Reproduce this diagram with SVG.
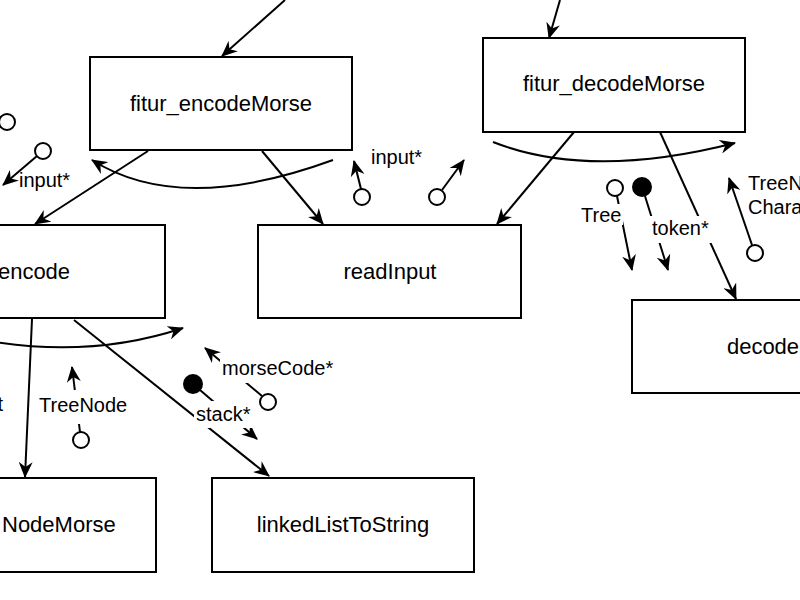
<svg xmlns="http://www.w3.org/2000/svg" width="800" height="600" viewBox="0 0 800 600">
<defs>
<style>
.box{fill:#fff;stroke:#000;stroke-width:2}
.t{font-family:"Liberation Sans",Arial,sans-serif;font-size:22px;fill:#000}
.l{font-family:"Liberation Sans",Arial,sans-serif;font-size:20px;fill:#000}
.c{fill:none;stroke:#000;stroke-width:2}
.o{fill:#fff;stroke:#000;stroke-width:2}
.f{fill:#000;stroke:#000;stroke-width:2}
.bg{fill:#fff;stroke:none}
</style>
<marker id="arr" viewBox="0 0 16 14" refX="15" refY="7" markerWidth="16" markerHeight="14" markerUnits="userSpaceOnUse" orient="auto">
<path d="M0,0 L16,7 L0,14 L5,7 Z" fill="#000"/>
</marker>
</defs>
<rect width="800" height="600" fill="#fff"/>
<g id="connectors">
<path class="c" marker-end="url(#arr)" d="M285,0 L222,56"/>
<path class="c" marker-end="url(#arr)" d="M560,0 L549,38"/>
<path class="c" marker-end="url(#arr)" d="M148,151 L35,224"/>
<path class="c" marker-end="url(#arr)" d="M262,151 L323,224"/>
<path class="c" marker-end="url(#arr)" d="M574,132 L497,224"/>
<path class="c" marker-end="url(#arr)" d="M660,132 L736,299"/>
<path class="c" marker-end="url(#arr)" d="M32,319 L25,477"/>
<path class="c" marker-end="url(#arr)" d="M74,320 L269,476"/>
<path class="c" marker-end="url(#arr)" d="M333,160 Q180,216 92,160"/>
<path class="c" marker-end="url(#arr)" d="M493,142 Q590,180 735,143"/>
<path class="c" marker-end="url(#arr)" d="M-50,333 Q75,364 183,328"/>
<path class="c" marker-end="url(#arr)" d="M37,156 L3,185"/>
<path class="c" marker-end="url(#arr)" d="M361,189 L354,161"/>
<path class="c" marker-end="url(#arr)" d="M442,190 L464,160"/>
<path class="c" marker-end="url(#arr)" d="M617,196 L632,270"/>
<path class="c" marker-end="url(#arr)" d="M645,196 L668,270"/>
<path class="c" marker-end="url(#arr)" d="M752,245 L729,178"/>
<path class="c" marker-end="url(#arr)" d="M80,432 L72,367"/>
<path class="c" marker-end="url(#arr)" d="M200,390 L257,439"/>
<path class="c" marker-end="url(#arr)" d="M262,396 L205,348"/>
<circle class="o" cx="7" cy="122" r="8"/>
<circle class="o" cx="43" cy="151" r="8"/>
<circle class="o" cx="362" cy="197" r="8"/>
<circle class="o" cx="437" cy="197" r="8"/>
<circle class="o" cx="615" cy="188" r="8"/>
<circle class="f" cx="642" cy="187" r="9"/>
<circle class="o" cx="755" cy="253" r="8"/>
<circle class="o" cx="81" cy="440" r="8"/>
<circle class="f" cx="193" cy="384" r="9"/>
<circle class="o" cx="268" cy="402" r="8"/>
</g>
<g id="labels">
<text class="l" x="19" y="187">input*</text>
<text class="l" x="371" y="164">input*</text>
<rect class="bg" x="579" y="204" width="44" height="21"/>
<text class="l" x="581" y="222">Tree</text>
<rect class="bg" x="650" y="216" width="62" height="27"/>
<text class="l" x="652" y="235">token*</text>
<text class="l" x="748" y="190">TreeN</text>
<text class="l" x="748" y="214">Chara</text>
<text class="l" x="3" y="411" text-anchor="end">t</text>
<rect class="bg" x="37" y="390" width="93" height="34"/>
<text class="l" x="39" y="412">TreeNode</text>
<rect class="bg" x="194" y="401" width="60" height="27"/>
<text class="l" x="196" y="421">stack*</text>
<rect class="bg" x="220" y="357" width="119" height="26"/>
<text class="l" x="222" y="375">morseCode*</text>
</g>
<g id="fitur_encodeMorse">
<rect class="box" x="90" y="57" width="262" height="93"/>
<text class="t" x="221" y="111" text-anchor="middle">fitur_encodeMorse</text>
</g>
<g id="fitur_decodeMorse">
<rect class="box" x="483" y="38" width="262" height="94"/>
<text class="t" x="614" y="91" text-anchor="middle">fitur_decodeMorse</text>
</g>
<g id="encode">
<rect class="box" x="-97" y="225" width="262" height="93"/>
<text class="t" x="34" y="279" text-anchor="middle">encode</text>
</g>
<g id="readInput">
<rect class="box" x="258" y="225" width="263" height="93"/>
<text class="t" x="390" y="279" text-anchor="middle">readInput</text>
</g>
<g id="decode">
<rect class="box" x="632" y="300" width="262" height="93"/>
<text class="t" x="763" y="354" text-anchor="middle">decode</text>
</g>
<g id="nodeMorse">
<rect class="box" x="-106" y="478" width="262" height="94"/>
<text class="t" x="2" y="532">NodeMorse</text>
</g>
<g id="linkedListToString">
<rect class="box" x="212" y="478" width="262" height="94"/>
<text class="t" x="343" y="532" text-anchor="middle">linkedListToString</text>
</g>
</svg>
